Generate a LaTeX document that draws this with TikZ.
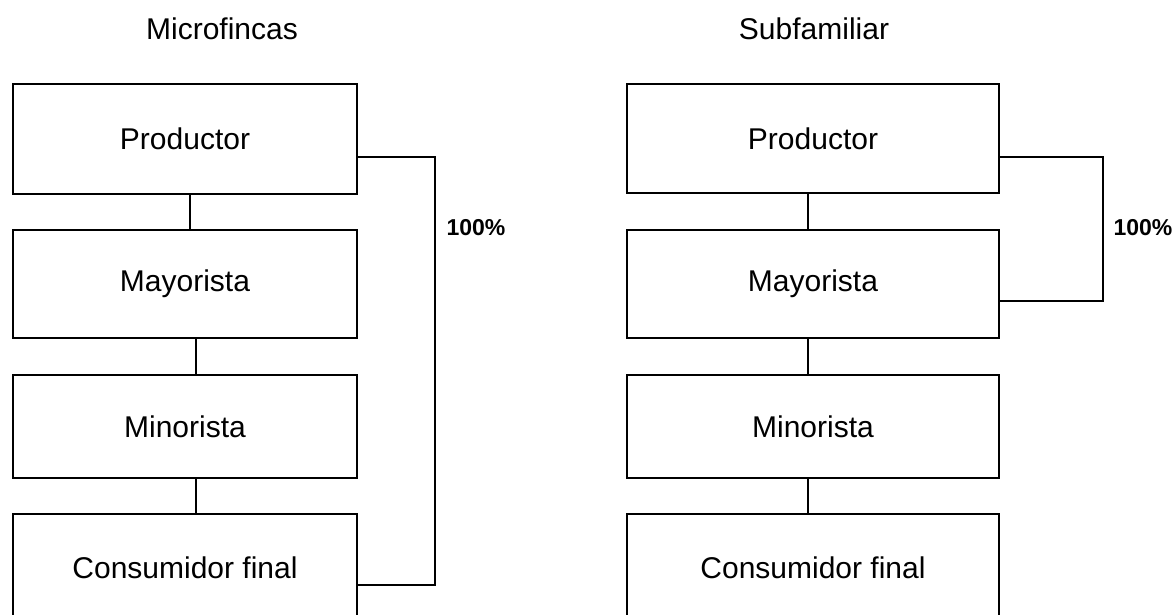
\documentclass[tikz,border=0pt]{standalone}
\usepackage{fontspec}
\setmainfont{Liberation Sans}
\usetikzlibrary{positioning}

\tikzset{
  canal/.style={draw=black,line width=1.3pt,rectangle,inner sep=0pt,font=\fontsize{30}{32}\selectfont},
  enlace/.style={draw=black,line width=1.1pt},
  titulo/.style={font=\fontsize{30}{32}\selectfont,anchor=base},
  porcentaje/.style={font=\fontsize{23}{25}\selectfont\bfseries,anchor=base west}
}

\begin{document}
\begin{tikzpicture}[x=1pt,y=-1pt]
\useasboundingbox (0,0) rectangle (1173,614);

% titulos
\node[titulo] (tmicro) at (222,39) {Microfincas};
\node[titulo] (tsub) at (814,39) {Subfamiliar};

% microfincas
\node[canal,minimum width=344pt,minimum height=110pt] (prodL) at (185,139) {Productor};
\node[canal,minimum width=344pt,minimum height=108pt] (mayL) at (185,284) {Mayorista};
\node[canal,minimum width=344pt,minimum height=103pt] (minL) at (185,426.5) {Minorista};
\node[canal,minimum width=344pt,minimum height=108pt] (consL) at (185,568) {Consumidor final};

\draw[enlace] ([xshift=5pt]prodL.south) -- ([xshift=5pt]mayL.north);
\draw[enlace] ([xshift=11pt]mayL.south) -- ([xshift=11pt]minL.north);
\draw[enlace] ([xshift=11pt]minL.south) -- ([xshift=11pt]consL.north);
\coordinate (esqL) at (435,157);
\draw[enlace] ([yshift=-18pt]prodL.east) -| (esqL) |- ([yshift=-17pt]consL.east);
\node[porcentaje] (pctL) at (443,235) {100\%};

% subfamiliar
\node[canal,minimum width=372pt,minimum height=109pt] (prodR) at (813,138.5) {Productor};
\node[canal,minimum width=372pt,minimum height=108pt] (mayR) at (813,284) {Mayorista};
\node[canal,minimum width=372pt,minimum height=103pt] (minR) at (813,426.5) {Minorista};
\node[canal,minimum width=372pt,minimum height=108pt] (consR) at (813,568) {Consumidor final};

\draw[enlace] ([xshift=-5pt]prodR.south) -- ([xshift=-5pt]mayR.north);
\draw[enlace] ([xshift=-5pt]mayR.south) -- ([xshift=-5pt]minR.north);
\draw[enlace] ([xshift=-5pt]minR.south) -- ([xshift=-5pt]consR.north);
\coordinate (esqR) at (1103,157);
\draw[enlace] ([yshift=-18.5pt]prodR.east) -| (esqR) |- ([yshift=-17pt]mayR.east);
\node[porcentaje] (pctR) at (1110,235) {100\%};

\end{tikzpicture}
\end{document}
